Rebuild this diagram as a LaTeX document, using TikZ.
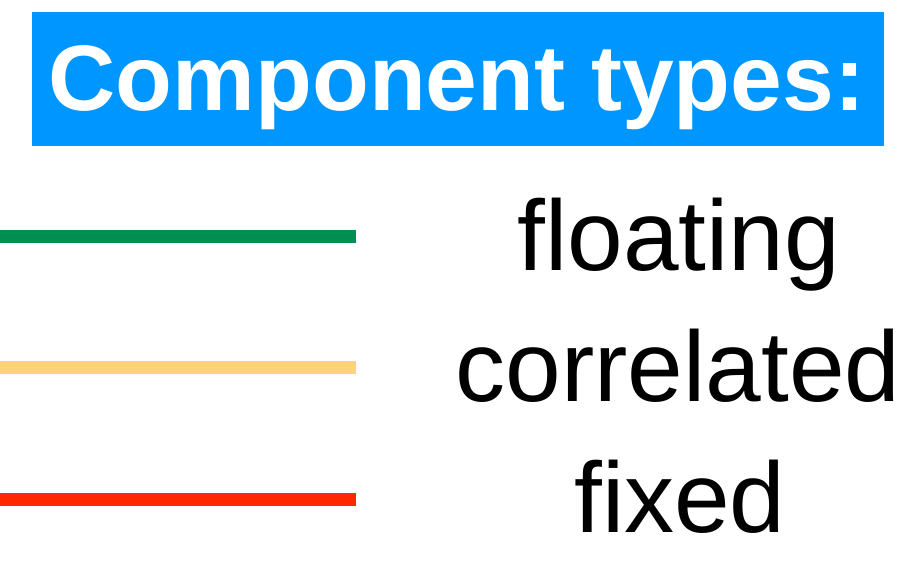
\documentclass[tikz,border=0pt]{standalone}
\usepackage{fontspec}
\setmainfont{Liberation Sans}
\definecolor{titleblue}{HTML}{0096FF}
\definecolor{clover}{HTML}{008F51}
\definecolor{cantaloupe}{HTML}{FFD479}
\definecolor{signalred}{HTML}{FF2600}
\tikzset{
  legendline/.style={line width=13pt, line cap=butt},
  legendlabel/.style={anchor=base, inner sep=0pt, font=\fontsize{100}{100}\selectfont},
  titlelabel/.style={anchor=base, inner sep=0pt, text=white, font=\fontsize{93}{93}\selectfont\bfseries}
}
\begin{document}
\begin{tikzpicture}[x=1pt, y=-1pt]
  \useasboundingbox (0,0) rectangle (923,563);
  % heading banner
  \node[fill=titleblue, minimum width=852pt, minimum height=134pt, inner sep=0pt, anchor=north west] (banner) at (32,12) {};
  \node[titlelabel] (title) at (457,110) {Component types:};
  % legend samples
  \coordinate (g0) at (0,236);   \coordinate (g1) at (356,236);
  \coordinate (y0) at (0,367.5); \coordinate (y1) at (356,367.5);
  \coordinate (r0) at (0,499);   \coordinate (r1) at (356,499);
  \draw[legendline, clover] (g0) -- (g1);
  \draw[legendline, cantaloupe] (y0) -- (y1);
  \draw[legendline, signalred] (r0) -- (r1);
  % legend texts
  \node[legendlabel] (floating) at (679,270) {floating};
  \node[legendlabel] (correlated) at (678,401) {correlated};
  \node[legendlabel] (fixed) at (680,532) {fixed};
\end{tikzpicture}
\end{document}
